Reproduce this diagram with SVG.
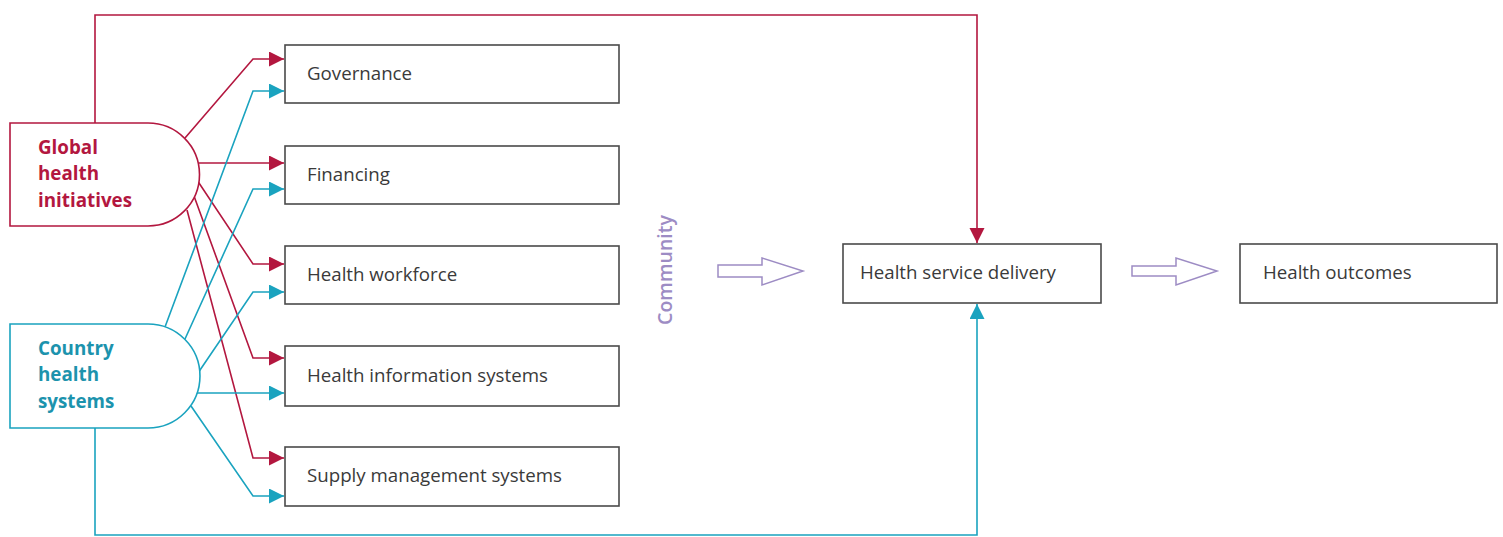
<svg xmlns="http://www.w3.org/2000/svg" width="1503" height="537" viewBox="0 0 1503 537">
<defs>
<style>
.box{fill:#fff;stroke:#4a4a4a;stroke-width:1.6}
.lbl{font-family:"Open Sans","Liberation Sans",sans-serif;font-size:18.7px;fill:#3a3a3a}
.red{fill:none;stroke:#b3173f;stroke-width:1.6}
.blue{fill:none;stroke:#1aa3bf;stroke-width:1.6}
.src{font-family:"Open Sans","Liberation Sans",sans-serif;font-size:18.8px;font-weight:bold}
.hollow{fill:#fff;stroke:#9d8cc4;stroke-width:1.5}
</style>
<marker id="ar" markerUnits="userSpaceOnUse" markerWidth="16" markerHeight="16" viewBox="0 0 16 16" refX="15" refY="7.5" orient="auto"><path d="M0,0 L15,7.5 L0,15 z" fill="#b3173f"/></marker>
<marker id="ab" markerUnits="userSpaceOnUse" markerWidth="16" markerHeight="16" viewBox="0 0 16 16" refX="15" refY="7.5" orient="auto"><path d="M0,0 L15,7.5 L0,15 z" fill="#1aa3bf"/></marker>
</defs>

<g id="connectors">
<path class="red" d="M95,123 V15 H977 V243" marker-end="url(#ar)"/>
<path class="blue" d="M95,428 V535 H977 V304" marker-end="url(#ab)"/>
<path class="red" d="M185,138 L253,59 H284" marker-end="url(#ar)"/>
<path class="red" d="M199,163 H284" marker-end="url(#ar)"/>
<path class="red" d="M197,180 L253,264 H284" marker-end="url(#ar)"/>
<path class="red" d="M194,196 L253,358 H284" marker-end="url(#ar)"/>
<path class="red" d="M187,210 L253,458 H284" marker-end="url(#ar)"/>
<path class="blue" d="M165,327 L253,91 H284" marker-end="url(#ab)"/>
<path class="blue" d="M185,339 L253,189 H284" marker-end="url(#ab)"/>
<path class="blue" d="M198,373 L253,292 H284" marker-end="url(#ab)"/>
<path class="blue" d="M197,393 H284" marker-end="url(#ab)"/>
<path class="blue" d="M191,406 L253,496 H284" marker-end="url(#ab)"/>
<path class="hollow" d="M718,265 H762 V258 L803,271 L762,285 V277 H718 Z"/>
<path class="hollow" d="M1132,266 H1176 V258 L1217,271 L1176,285 V276 H1132 Z"/>
</g>

<g id="global">
<path d="M10,123 H148 A51.5,51.5 0 0 1 148,226 H10 Z" fill="#fff" stroke="#b3173f" stroke-width="1.6"/>
<text class="src" fill="#b3173f"><tspan x="38" y="154">Global</tspan><tspan x="38" y="180">health</tspan><tspan x="38" y="207">initiatives</tspan></text>
</g>

<g id="country">
<path d="M10,324 H148 A52,52 0 0 1 148,428 H10 Z" fill="#fff" stroke="#1aa3bf" stroke-width="1.6"/>
<text class="src" fill="#1c93ad"><tspan x="38" y="355">Country</tspan><tspan x="38" y="381">health</tspan><tspan x="38" y="408">systems</tspan></text>
</g>

<g id="governance"><rect class="box" x="285" y="45" width="334" height="58"/><text class="lbl" x="307" y="80">Governance</text></g>
<g id="financing"><rect class="box" x="285" y="146" width="334" height="58"/><text class="lbl" x="307" y="181">Financing</text></g>
<g id="workforce"><rect class="box" x="285" y="246" width="334" height="58"/><text class="lbl" x="307" y="281">Health workforce</text></g>
<g id="his"><rect class="box" x="285" y="346" width="334" height="60"/><text class="lbl" x="307" y="382">Health information systems</text></g>
<g id="supply"><rect class="box" x="285" y="447" width="334" height="59"/><text class="lbl" x="307" y="482">Supply management systems</text></g>

<g id="community"><text x="0" y="0" transform="translate(672,270) rotate(-90)" text-anchor="middle" font-family="Open Sans, Liberation Sans, sans-serif" font-size="19.5" font-weight="600" fill="#9d8cc4">Community</text></g>

<g id="delivery"><rect class="box" x="843" y="244" width="258" height="59"/><text class="lbl" x="860" y="279">Health service delivery</text></g>
<g id="outcomes"><rect class="box" x="1240" y="244" width="257" height="59"/><text class="lbl" x="1263" y="279">Health outcomes</text></g>
</svg>
